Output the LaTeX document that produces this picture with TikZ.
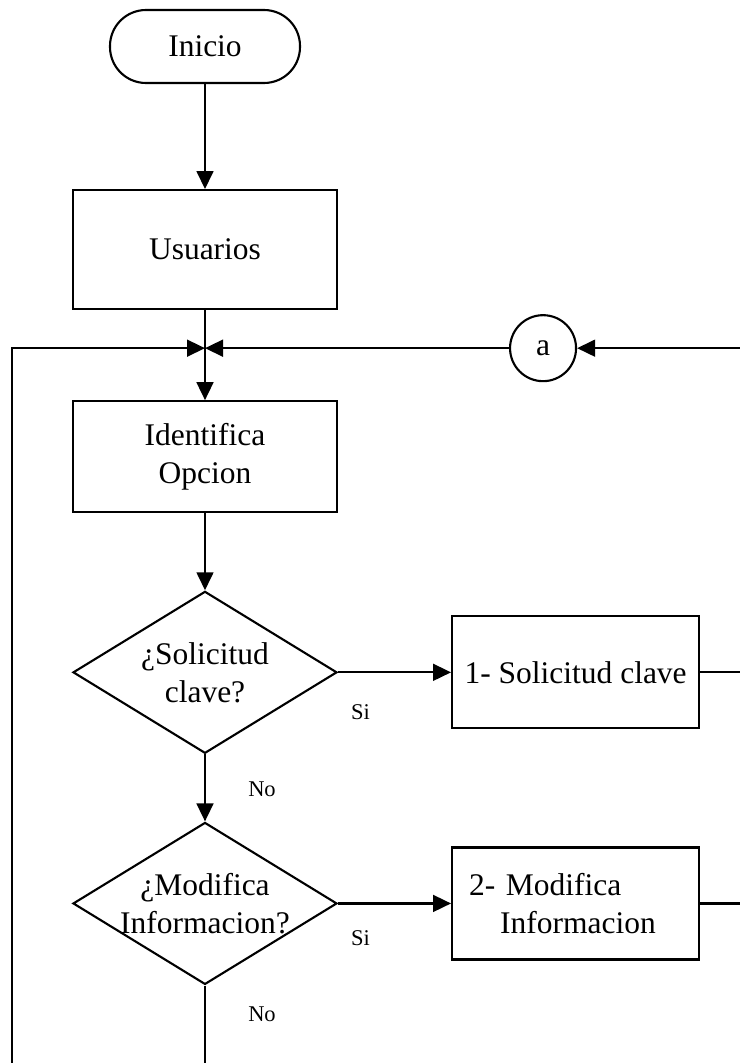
\documentclass[tikz,border=0pt]{standalone}
\usepackage{fontspec}
\setmainfont{Liberation Serif}
\usetikzlibrary{arrows.meta,positioning,shapes.geometric}
\newcommand{\mainfont}{\fontsize{22.4}{27}\selectfont}
\tikzset{
  termbox/.style={draw,fill=white,line width=1.5pt,rounded corners=0.9cm,minimum width=4.75cm,minimum height=1.825cm,font=\mainfont},
  procbox/.style={draw,fill=white,line width=1.5pt,align=center,minimum width=6.6cm,font=\mainfont},
  sidebox/.style={draw,fill=white,line width=1.5pt,minimum width=6.175cm,minimum height=2.8cm,font=\mainfont},
  decbox/.style={draw,fill=white,diamond,line width=1.5pt,minimum width=6.6cm,minimum height=4.05cm,inner sep=0pt},
  dectext/.style={align=center,inner sep=0pt,font=\mainfont},
  connbox/.style={draw,fill=white,circle,line width=1.5pt,minimum size=1.65cm,inner sep=0pt,font=\mainfont},
  flowarrow/.style={-{Triangle[length=4.5mm,width=4.2mm]},line width=1.6pt},
  flowline/.style={line width=1.6pt},
  lbl/.style={font=\fontsize{16}{19}\selectfont}
}
\begin{document}
\begin{tikzpicture}
\useasboundingbox (0,0) rectangle (18.5,-26.575);
\coordinate (br) at (18.5,-26.575);
\coordinate (lft) at (0.3,0);
% main column
\node[termbox] (ini) at (5.125,-1.1625) {Inicio};
\node[procbox,below=2.625cm of ini,minimum height=2.975cm] (usr) {Usuarios};
\node[procbox,below=2.25cm of usr,minimum height=2.775cm] (idf) {Identifica\\Opcion};
\node[decbox,below=1.925cm of idf] (d1) {};
\node[dectext] (q1) at (d1) {¿Solicitud\\clave?};
\node[decbox,below=1.675cm of d1] (d2) {};
\node[dectext] (q2) at (d2) {¿Modifica\\Informacion?};
% options
\node[sidebox,right=2.825cm of d1] (b1) {1- Solicitud clave};
\node[sidebox,right=2.825cm of d2,align=left,text width=5.325cm,inner sep=0pt] (b2) {2- Modifica\\\hspace*{0.775cm}Informacion};
% return point
\coordinate[below=0.95cm of usr] (jn);
\node[connbox,right=7.6cm of jn] (a) {a};
% connectors
\draw[flowarrow] (ini) -- (usr);
\draw[flowarrow] (usr) -- (idf);
\draw[flowarrow] (lft |- br) |- (jn);
\draw[flowarrow] (a) -- (jn);
\draw[flowarrow] (jn -| br) -- (a);
\draw[flowarrow] (idf) -- (d1);
\draw[flowarrow] (d1) -- (b1);
\draw[flowarrow] (d1) -- (d2);
\draw[flowarrow] (d2) -- (b2);
\draw[flowline] (d2) -- (d2 |- br);
\draw[flowline] (b1) -- (b1 -| br);
\draw[flowline] (b2) -- (b2 -| br);
% labels
\node[lbl] (si1) at ([shift={(0.5625,-1.0)}]d1.east) {Si};
\node[lbl] (no1) at ([shift={(1.425,-0.875)}]d1.south) {No};
\node[lbl] (si2) at ([shift={(0.5625,-0.875)}]d2.east) {Si};
\node[lbl] (no2) at ([shift={(1.425,-0.725)}]d2.south) {No};
\end{tikzpicture}
\end{document}
